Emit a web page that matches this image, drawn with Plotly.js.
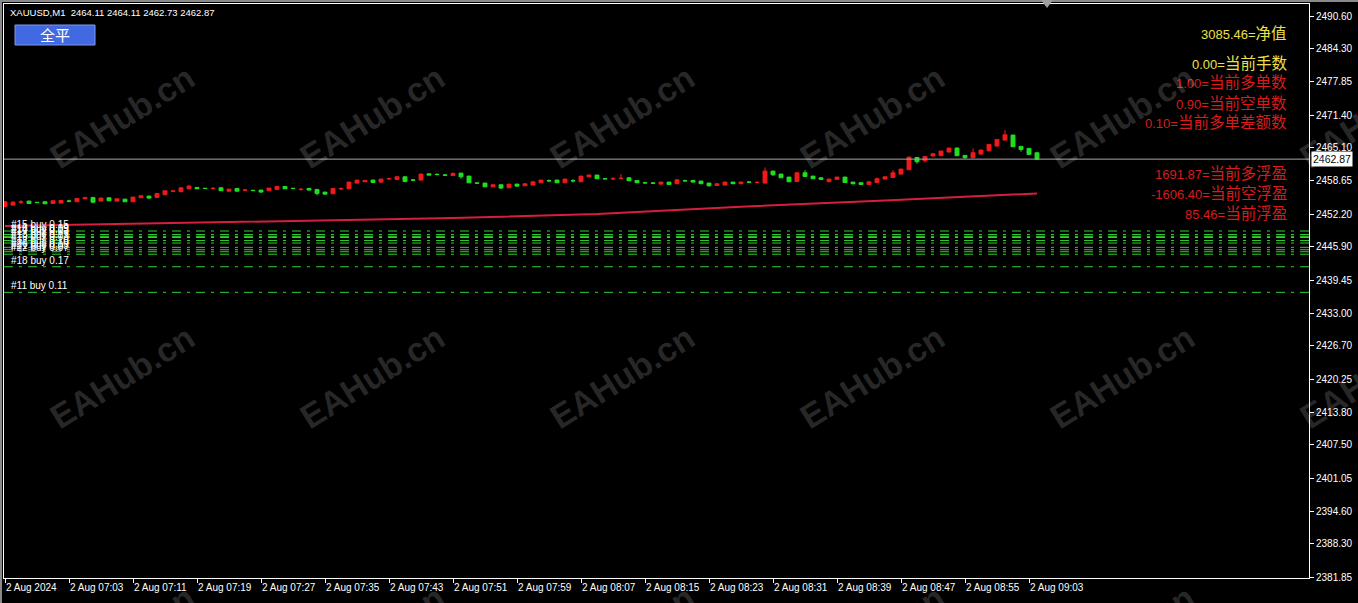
<!DOCTYPE html>
<html><head><meta charset="utf-8">
<script src="https://cdn.plot.ly/plotly-3.0.1.min.js"></script>
<style>html,body{margin:0;padding:0;background:#000;overflow:hidden}#chart{width:1358px;height:603px}</style>
</head><body><div id="chart"></div>
<script>
// ---- data (M1 bars, 2 Aug 2024 06:55 .. 09:04) ----
const openP = [2453.70,2453.96,2454.50,2454.74,2454.50,2454.61,2454.28,2454.35,2454.76,2454.61,
 2455.19,2455.45,2454.74,2455.38,2454.74,2455.12,2454.61,2455.38,2455.71,2455.45,
 2455.96,2456.64,2456.55,2457.13,2457.39,2457.22,2457.17,2457.32,2456.67,2457.19,
 2456.85,2456.82,2456.87,2456.74,2457.00,2457.58,2457.22,2456.98,2457.19,2457.00,
 2456.48,2456.16,2457.10,2457.13,2458.23,2458.48,2458.81,2458.42,2459.04,2458.94,
 2459.45,2458.83,2458.81,2460.03,2459.93,2459.80,2459.71,2460.16,2459.58,2458.25,
 2458.23,2457.51,2457.90,2457.32,2458.03,2457.71,2457.84,2458.29,2458.70,2458.81,
 2458.29,2458.70,2458.48,2459.45,2459.78,2459.09,2459.05,2459.10,2459.26,2458.74,
 2458.31,2458.25,2458.03,2458.42,2458.10,2458.70,2458.74,2458.61,2458.23,2457.77,
 2457.84,2458.42,2458.10,2458.44,2458.33,2458.23,2460.55,2459.97,2459.39,2458.55,
 2460.23,2459.58,2459.26,2458.55,2458.94,2459.39,2458.42,2458.29,2457.97,2458.35,
 2459.00,2459.33,2459.97,2460.81,2463.20,2462.56,2463.50,2463.53,2464.24,2465.01,
 2463.59,2463.14,2463.85,2464.50,2465.40,2466.56,2467.53,2465.34,2464.95,2464.11];
const highP = [2454.75,2454.62,2454.93,2454.80,2454.58,2454.66,2454.86,2454.95,2455.00,2455.30,
 2455.55,2455.50,2455.38,2455.42,2455.25,2455.18,2455.56,2455.90,2455.76,2456.26,
 2456.78,2456.90,2457.36,2457.90,2457.44,2457.30,2457.45,2457.38,2457.10,2457.25,
 2456.98,2456.95,2456.92,2457.30,2457.70,2457.62,2457.30,2457.30,2457.24,2457.05,
 2456.52,2457.24,2457.40,2458.46,2458.86,2458.80,2458.86,2459.05,2459.30,2459.50,
 2459.50,2459.00,2460.02,2460.08,2460.10,2459.95,2460.30,2460.20,2459.62,2458.35,
 2458.28,2457.95,2457.95,2458.08,2458.08,2458.15,2458.53,2458.86,2458.95,2458.86,
 2459.05,2459.00,2459.62,2459.90,2459.82,2459.14,2459.40,2459.97,2459.30,2458.78,
 2458.50,2458.40,2458.46,2458.46,2458.92,2458.90,2458.78,2458.66,2458.28,2458.15,
 2458.47,2458.47,2458.50,2458.60,2458.55,2461.26,2460.60,2460.02,2459.44,2460.28,
 2460.75,2459.63,2459.31,2459.05,2459.44,2459.44,2458.47,2458.34,2458.53,2459.30,
 2459.50,2460.75,2460.99,2463.32,2463.25,2463.45,2464.10,2464.48,2465.06,2465.15,
 2463.64,2464.95,2464.68,2465.77,2466.74,2468.50,2467.58,2465.39,2465.00,2464.11];
const lowP = [2453.55,2453.90,2454.15,2454.20,2454.38,2454.18,2454.24,2454.30,2454.50,2454.58,
 2455.15,2454.30,2454.70,2454.74,2454.55,2454.58,2454.58,2455.32,2455.20,2455.40,
 2455.92,2456.45,2456.50,2457.10,2457.10,2457.10,2456.95,2456.70,2456.50,2456.55,
 2456.75,2456.65,2456.40,2456.70,2456.95,2457.08,2457.10,2456.75,2456.80,2455.83,
 2456.02,2456.10,2456.90,2457.08,2458.18,2458.44,2458.30,2458.30,2458.85,2458.90,
 2458.35,2458.60,2458.76,2459.74,2459.70,2459.60,2459.66,2459.07,2458.24,2458.10,
 2457.46,2457.46,2457.10,2457.28,2457.55,2457.66,2457.80,2458.24,2458.45,2458.24,
 2458.24,2458.35,2458.44,2459.40,2459.02,2459.00,2458.80,2459.00,2458.64,2458.24,
 2458.10,2458.05,2457.98,2457.92,2458.05,2458.50,2458.38,2458.05,2457.55,2457.72,
 2457.80,2458.06,2458.06,2458.30,2458.20,2458.18,2459.60,2459.20,2458.43,2458.50,
 2459.47,2459.02,2458.89,2458.30,2458.89,2458.30,2457.98,2457.85,2457.92,2458.30,
 2458.95,2459.28,2459.92,2460.76,2461.98,2462.17,2463.30,2463.48,2464.19,2463.48,
 2462.95,2463.09,2463.80,2464.30,2465.35,2466.51,2465.22,2464.30,2463.74,2462.73];
const closeP = [2454.60,2454.54,2454.56,2454.28,2454.45,2454.22,2454.80,2454.87,2454.72,2455.25,
 2455.45,2454.54,2455.32,2454.80,2455.19,2454.61,2455.51,2455.77,2455.32,2456.22,
 2456.74,2456.70,2457.32,2457.64,2457.13,2457.17,2457.22,2456.74,2457.06,2456.67,
 2456.89,2456.78,2456.48,2457.26,2457.58,2457.13,2457.17,2457.02,2456.87,2456.22,
 2456.09,2457.19,2457.16,2458.42,2458.81,2458.74,2458.35,2459.00,2459.10,2459.45,
 2458.55,2458.79,2459.97,2459.78,2459.89,2459.76,2460.10,2459.45,2458.29,2458.21,
 2457.51,2457.90,2457.26,2458.03,2457.64,2458.10,2458.48,2458.81,2458.66,2458.29,
 2459.00,2458.66,2459.58,2459.78,2459.07,2459.05,2459.09,2459.16,2458.68,2458.29,
 2458.27,2458.21,2458.42,2457.97,2458.87,2458.66,2458.42,2458.10,2457.71,2458.10,
 2458.42,2458.10,2458.42,2458.40,2458.37,2460.55,2459.84,2459.26,2458.48,2460.23,
 2459.52,2459.07,2458.94,2459.00,2459.39,2458.35,2458.10,2457.97,2458.48,2459.07,
 2459.45,2460.23,2460.94,2463.27,2462.36,2463.40,2463.90,2464.43,2465.01,2463.53,
 2463.14,2464.11,2464.63,2465.72,2466.69,2467.60,2465.27,2464.75,2463.79,2462.87];

const xTickIdx  = [0,8,16,24,32,40,48,56,64,72,80,88,96,104,112,120,128];
const xTickText = ["2 Aug 2024","2 Aug 07:03","2 Aug 07:11","2 Aug 07:19","2 Aug 07:27","2 Aug 07:35",
 "2 Aug 07:43","2 Aug 07:51","2 Aug 07:59","2 Aug 08:07","2 Aug 08:15","2 Aug 08:23","2 Aug 08:31",
 "2 Aug 08:39","2 Aug 08:47","2 Aug 08:55","2 Aug 09:03"];
const yTickVals = [2381.85,2388.30,2394.60,2401.05,2407.50,2413.80,2420.25,2426.70,2433.00,
 2439.45,2445.90,2452.20,2458.65,2465.10,2471.40,2477.85,2484.30,2490.60];

const maIdx = [0, 37, 56, 74, 92, 110, 117, 129];
const maVal = [2449.90, 2450.88, 2451.45, 2452.24, 2453.65, 2454.85, 2455.40, 2456.22];

const orderPrices = [2448.94,2448.26,2447.91,2447.68,2447.10,2446.62,2445.78,2445.32,2444.93,2444.45,2442.02,2437.06];
const orderLabels = ["#15 buy 0.15","#16 buy 0.09","#14 buy 0.13","#17 buy 0.03","#13 buy 0.13","#19 buy 0.03",
 "#12 buy 0.10","#20 buy 0.10","#21 buy 0.03","#22 buy 0.07","#18 buy 0.17","#11 buy 0.11"];

const bidPrice = 2462.87;
const headerText = "XAUUSD,M1\u00a0\u00a02464.11 2464.11 2462.73 2462.87";
const infoValues = ["3085.46","0.00","1.00","0.90","0.10","1691.87","-1606.40","85.46"];
const infoNames = ["净值","当前手数","当前多单数","当前空单数","当前多单差额数","当前多浮盈","当前空浮盈","当前浮盈"];
const buttonText = "全平";
const watermark = "EAHub.cn";

// ---- layout helpers (pixel -> paper) ----
const W = 1358, H = 603, ML = 4, MR = 49, MT = 4, MB = 25;
const PW = W - ML - MR, PH = H - MT - MB;
const px = x => (x - ML) / PW;
const py = y => 1 - (y - MT) / PH;

const idx = openP.map((_, i) => i);
const font = "Liberation Sans, Arial, sans-serif";
const cjk = "Liberation Sans, Noto Sans CJK SC, sans-serif";

const traces = [
  { type: 'scatter', mode: 'lines', x: maIdx, y: maVal, line: { color: '#d41f40', width: 2 },
    hoverinfo: 'skip', showlegend: false },
  { type: 'candlestick', x: idx, open: openP, high: highP, low: lowP, close: closeP,
    increasing: { line: { color: '#f01a1a', width: 1 }, fillcolor: '#f01a1a' },
    decreasing: { line: { color: '#1fe01f', width: 1 }, fillcolor: '#1fe01f' },
    whiskerwidth: 0, hoverinfo: 'skip', showlegend: false }
];

const shapes = [];
orderPrices.forEach(p => shapes.push({ type: 'line', xref: 'paper', yref: 'y', x0: 0, x1: 1, y0: p, y1: p,
  line: { color: '#32cd32', width: 1, dash: '9px,6px,3px,6px' } }));
shapes.push({ type: 'line', xref: 'paper', yref: 'y', x0: 0, x1: 1, y0: bidPrice, y1: bidPrice,
  line: { color: '#a8a8a8', width: 1 } });
// button
shapes.push({ type: 'rect', xref: 'paper', yref: 'paper', x0: px(15), x1: px(95), y0: py(45), y1: py(25),
  fillcolor: '#4169e1', line: { color: '#7d98ee', width: 1 } });
// window frame strips
shapes.push({ type: 'rect', xref: 'paper', yref: 'paper', x0: px(0), x1: px(W), y0: py(0), y1: py(2),
  fillcolor: '#8a8a8a', line: { width: 0 } });
shapes.push({ type: 'rect', xref: 'paper', yref: 'paper', x0: px(0), x1: px(2), y0: py(H), y1: py(0),
  fillcolor: '#8a8a8a', line: { width: 0 } });
// chart-shift marker
shapes.push({ type: 'path', xref: 'paper', yref: 'paper',
  path: `M ${px(1041)} ${py(0)} L ${px(1053)} ${py(0)} L ${px(1047)} ${py(8)} Z`,
  fillcolor: '#a0a0a0', line: { width: 0 } });

const annotations = [];
annotations.push({ xref: 'paper', yref: 'paper', x: px(8), y: py(13), xanchor: 'left', yanchor: 'middle',
  text: headerText, showarrow: false, font: { family: font, size: 9.5, color: '#ffffff' } });
annotations.push({ xref: 'paper', yref: 'paper', x: px(55), y: py(35), xanchor: 'center', yanchor: 'middle',
  text: buttonText, showarrow: false, font: { family: cjk, size: 15, color: '#ffffff' } });
const infoY = [33, 63, 83, 103, 123, 173, 193, 213];
infoValues.forEach((v, i) => annotations.push({ xref: 'paper', yref: 'paper', x: px(1289), y: py(infoY[i]),
  xanchor: 'right', yanchor: 'middle',
  text: v + '=<span style="font-size:15.5px">' + infoNames[i] + '</span>', showarrow: false,
  font: { family: cjk, size: 13, color: i < 2 ? '#ece04c' : '#d81c1c' } }));
orderPrices.forEach((p, i) => annotations.push({ xref: 'paper', yref: 'y', x: px(10), y: p,
  xanchor: 'left', yanchor: 'bottom', text: orderLabels[i], showarrow: false, borderpad: 0,
  font: { family: font, size: 10, color: '#ffffff' } }));
annotations.push({ xref: 'paper', yref: 'y', x: px(1311), y: bidPrice, xanchor: 'left', yanchor: 'middle',
  text: bidPrice.toFixed(2), showarrow: false, bgcolor: '#ffffff', borderpad: 1,
  font: { family: font, size: 10.5, color: '#000000' } });
// watermark grid
[117, 377, 637].forEach(cy => [122, 372, 622, 872, 1122, 1372].forEach(cx => annotations.push({
  xref: 'paper', yref: 'paper', x: px(cx), y: py(cy), xanchor: 'center', yanchor: 'middle',
  text: watermark, textangle: -32, showarrow: false,
  font: { family: font, size: 34, weight: 'bold', color: 'rgba(255,255,255,0.16)' } })));

const layout = {
  width: W, height: H, margin: { l: ML, r: MR, t: MT, b: MB, pad: 0 },
  paper_bgcolor: '#000000', plot_bgcolor: '#000000', showlegend: false, hovermode: false,
  xaxis: { range: [-0.125, 163], tickvals: xTickIdx, ticktext: xTickText, ticks: 'outside', ticklen: 4,
    tickangle: 0, tickcolor: '#ffffff', showline: true, linecolor: '#ffffff', linewidth: 1, mirror: true,
    showgrid: false, zeroline: false, rangeslider: { visible: false }, ticklabelposition: 'outside right',
    tickfont: { family: font, size: 10, color: '#ffffff' }, fixedrange: true },
  yaxis: { side: 'right', range: [2381.71, 2492.93], tickvals: yTickVals, tickformat: '.2f',
    ticks: 'outside', ticklen: 4, tickcolor: '#ffffff', showline: true, linecolor: '#ffffff', linewidth: 1,
    mirror: true, showgrid: false, zeroline: false,
    tickfont: { family: font, size: 10, color: '#ffffff' }, fixedrange: true },
  shapes: shapes, annotations: annotations
};

Plotly.newPlot('chart', traces, layout, { displayModeBar: false, staticPlot: true });
</script></body></html>
